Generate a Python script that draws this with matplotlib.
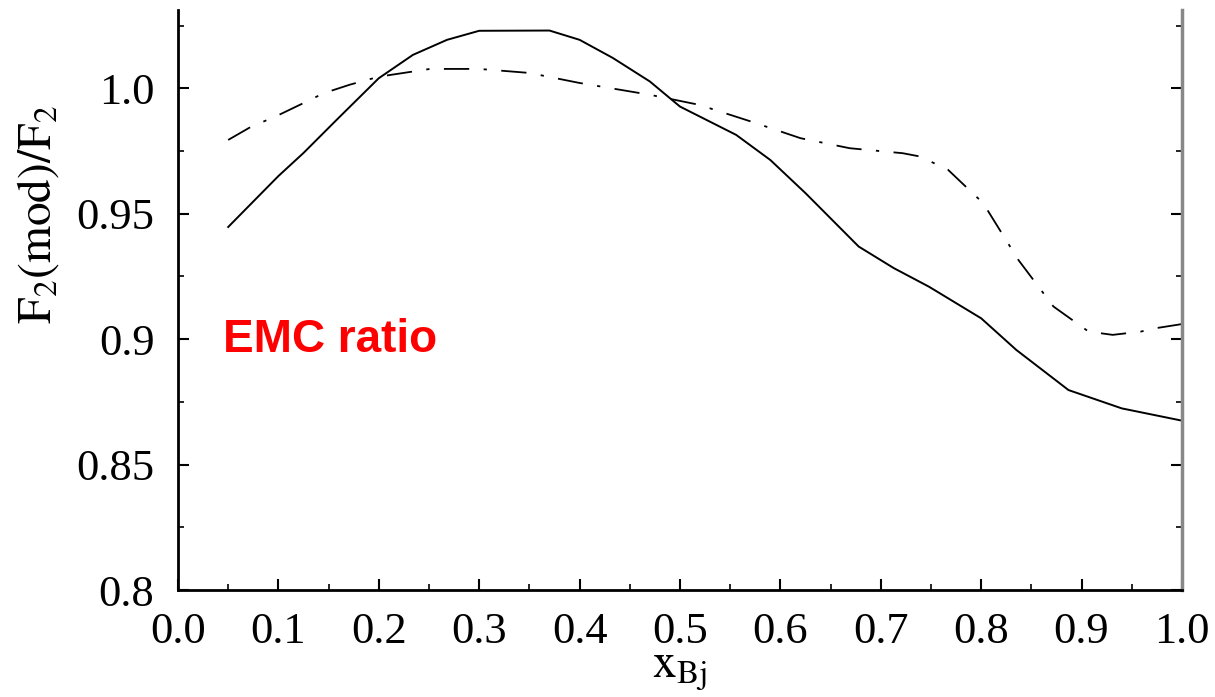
import matplotlib.pyplot as plt
from matplotlib.ticker import FixedLocator, FixedFormatter, MultipleLocator

plt.rcParams['font.family'] = ['Liberation Serif', 'DejaVu Serif']
plt.rcParams['mathtext.fontset'] = 'stix'

# solid curve
x_solid = [0.05, 0.1, 0.125, 0.158, 0.2, 0.234, 0.268, 0.30, 0.37, 0.40, 0.433, 0.47,
           0.50, 0.556, 0.59, 0.625, 0.678, 0.713, 0.748, 0.80, 0.835, 0.887, 0.94, 1.0]
f2_solid = [0.9447, 0.965, 0.9742, 0.9874, 1.004, 1.0133, 1.0193, 1.0229, 1.023, 1.0193, 1.0121, 1.0027,
            0.9927, 0.9814, 0.9714, 0.9582, 0.9369, 0.9283, 0.9209, 0.9083, 0.8957, 0.8797, 0.8724, 0.8675]

# dash-dot curve
x_dashdot = [0.05, 0.073, 0.097, 0.123, 0.145, 0.171, 0.2, 0.251, 0.30, 0.35, 0.40, 0.47, 0.519, 0.571,
             0.620, 0.669, 0.722, 0.739, 0.767, 0.802, 0.837, 0.872, 0.907, 0.931, 0.959, 0.973, 1.0]
f2_dashdot = [0.9794, 0.9847, 0.9887, 0.9937, 0.998, 1.0014, 1.0046, 1.0077, 1.0077, 1.0061, 1.0021, 0.9974,
              0.9934, 0.9867, 0.9801, 0.9761, 0.9741, 0.9728, 0.9675, 0.9542, 0.9316, 0.9130, 0.9030,
              0.9017, 0.9030, 0.9043, 0.9060]

x_ticks = [0.0, 0.1, 0.2, 0.3, 0.4, 0.5, 0.6, 0.7, 0.8, 0.9, 1.0]
x_labels = ["0.0", "0.1", "0.2", "0.3", "0.4", "0.5", "0.6", "0.7", "0.8", "0.9", "1.0"]
y_ticks = [0.8, 0.85, 0.9, 0.95, 1.0]
y_labels = ["0.8", "0.85", "0.9", "0.95", "1.0"]

fig = plt.figure(figsize=(12.15, 6.97), dpi=100)
ax = fig.add_axes([0.1465, 0.1535, 0.8263, 0.8322])

ax.plot(x_solid, f2_solid, color='black', lw=1.4)
ax.plot(x_dashdot, f2_dashdot, color='black', lw=1.3, dashes=[14, 8, 1.8, 8])

ax.set_xlim(0.0, 1.0)
ax.set_ylim(0.8, 1.0312)

ax.xaxis.set_major_locator(FixedLocator(x_ticks))
ax.xaxis.set_major_formatter(FixedFormatter(x_labels))
ax.xaxis.set_minor_locator(MultipleLocator(0.05))
ax.yaxis.set_major_locator(FixedLocator(y_ticks))
ax.yaxis.set_major_formatter(FixedFormatter(y_labels))
ax.yaxis.set_minor_locator(MultipleLocator(0.025))

ax.tick_params(which='both', direction='in', left=True, right=True, bottom=True, top=False,
               labelsize=32, color='black')
ax.tick_params(axis='y', which='major', length=8, width=1.5, pad=17)
ax.tick_params(axis='x', which='major', length=8, width=1.5, pad=16)
ax.tick_params(which='minor', length=4, width=1.2)

ax.spines['top'].set_visible(False)
ax.spines['left'].set_linewidth(2)
ax.spines['bottom'].set_linewidth(2)
ax.spines['right'].set_linewidth(2.5)
ax.spines['right'].set_color('#888888')

ax.set_ylabel(r'$\mathrm{F_2(mod)/F_2}$', fontsize=34)
ax.yaxis.set_label_coords(-0.117, 0.647)
ax.set_xlabel(r'$\mathrm{x_{Bj}}$', fontsize=34, labelpad=-1)

ax.text(0.045, 0.895, 'EMC ratio', color='#ff0000', fontsize=33, fontweight='bold',
        family='Liberation Sans', ha='left', va='baseline')

fig.savefig('out.png', dpi=100)
